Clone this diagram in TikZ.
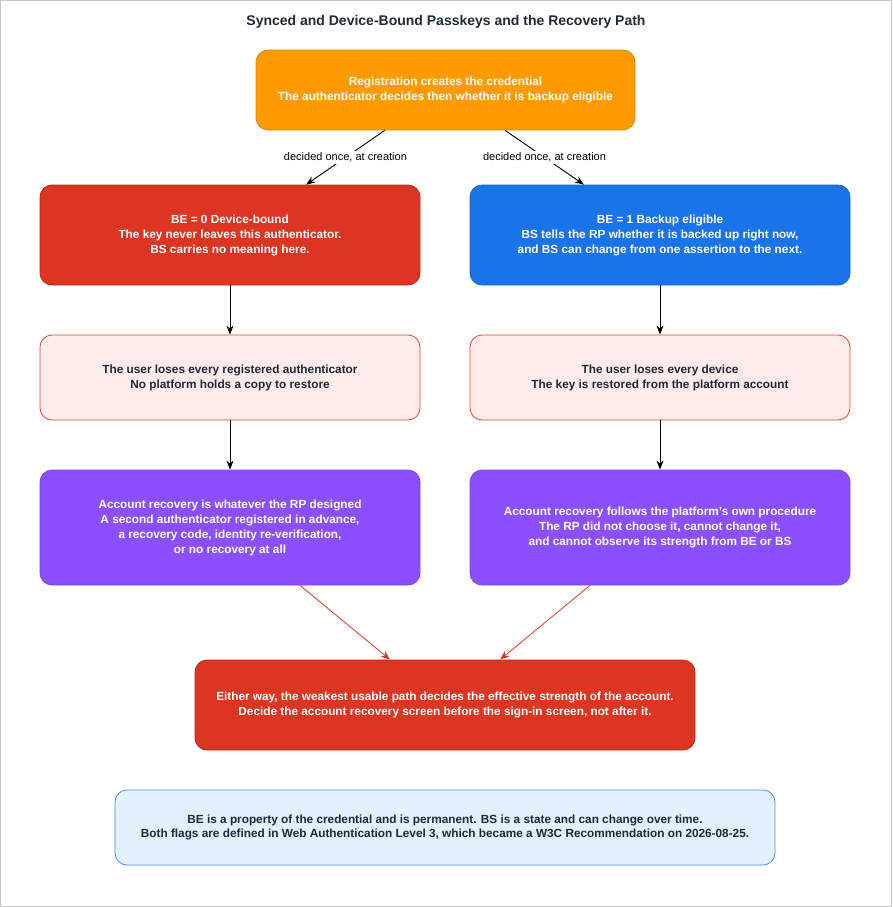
\documentclass[tikz,border=0pt]{standalone}
\usepackage{fontspec}
\setmainfont{Liberation Sans}
\usepackage{tikz}
\usetikzlibrary{arrows.meta,positioning,calc}
\usepackage{xcolor}
\definecolor{regorange}{HTML}{FF9A00}
\definecolor{regorangeline}{HTML}{D98A0C}
\definecolor{bered}{HTML}{DC3522}
\definecolor{beredline}{HTML}{B82B1B}
\definecolor{beblue}{HTML}{1A73E8}
\definecolor{beblueline}{HTML}{1462C6}
\definecolor{losspink}{HTML}{FFEBEA}
\definecolor{losspinkline}{HTML}{E0452F}
\definecolor{recpurple}{HTML}{8C4FFF}
\definecolor{recpurpleline}{HTML}{7A45E0}
\definecolor{noteblue}{HTML}{E3F0FD}
\definecolor{noteblueline}{HTML}{4A8FE7}
\definecolor{darktext}{HTML}{1F2937}
\definecolor{framegray}{HTML}{C8C8C8}

\begin{document}
\begin{tikzpicture}[x=1pt,y=-1pt,
    box/.style={draw,rounded corners=12pt,line width=0.8pt,align=center,
        font=\bfseries\fontsize{11.8}{15}\selectfont,inner sep=0pt},
    darkbox/.style={box,text=white},
    lightbox/.style={box,text=darktext},
    flow/.style={-{Stealth[length=9pt,width=7pt]},line width=0.9pt},
    redflow/.style={-{Stealth[length=9pt,width=7pt]},line width=0.8pt,draw=bered,color=bered},
    edgelabel/.style={fill=white,inner sep=1.5pt,font=\fontsize{11}{13}\selectfont}]
    \useasboundingbox (0,0) rectangle (892,907);
    \draw[framegray,line width=0.8pt] (0.5,0.5) rectangle (891.5,906.5);
    \node[font=\bfseries\fontsize{14}{16}\selectfont,text=darktext] (title) at (446,22) {Synced and Device-Bound Passkeys and the Recovery Path};
    % registration
    \node[darkbox,fill=regorange,draw=regorangeline,minimum width=379pt,minimum height=80pt] (reg) at (445.5,90)
        {Registration creates the credential\\The authenticator decides then whether it is backup eligible};
    % the two flags
    \node[darkbox,fill=bered,draw=beredline,minimum width=380pt,minimum height=100pt] (bezero) at (230,235)
        {BE = 0 Device-bound\\The key never leaves this authenticator.\\BS carries no meaning here.};
    \node[darkbox,fill=beblue,draw=beblueline,minimum width=380pt,minimum height=100pt] (beone) at (660,235)
        {BE = 1 Backup eligible\\BS tells the RP whether it is backed up right now,\\and BS can change from one assertion to the next.};
    % losing everything
    \node[lightbox,fill=losspink,draw=losspinkline,minimum width=380pt,minimum height=85pt] (lossleft) at (230,377.5)
        {The user loses every registered authenticator\\No platform holds a copy to restore};
    \node[lightbox,fill=losspink,draw=losspinkline,minimum width=380pt,minimum height=85pt] (lossright) at (660,377.5)
        {The user loses every device\\The key is restored from the platform account};
    % recovery
    \node[darkbox,fill=recpurple,draw=recpurpleline,minimum width=380pt,minimum height=115pt] (recleft) at (230,527.5)
        {Account recovery is whatever the RP designed\\A second authenticator registered in advance,\\a recovery code, identity re-verification,\\or no recovery at all};
    \node[darkbox,fill=recpurple,draw=recpurpleline,minimum width=380pt,minimum height=115pt] (recright) at (660,527.5)
        {Account recovery follows the platform's own procedure\\The RP did not choose it, cannot change it,\\and cannot observe its strength from BE or BS};
    \node[darkbox,fill=bered,draw=beredline,minimum width=500pt,minimum height=90pt] (weakest) at (445,705)
        {Either way, the weakest usable path decides the effective strength of the account.\\Decide the account recovery screen before the sign-in screen, not after it.};
    \node[lightbox,fill=noteblue,draw=noteblueline,minimum width=660pt,minimum height=75pt,font=\bfseries\fontsize{11.8}{14.5}\selectfont] (note) at (445,827.5)
        {BE is a property of the credential and is permanent. BS is a state and can change over time.\\Both flags are defined in Web Authentication Level 3, which became a W3C Recommendation on 2026-08-25.};
    % connectors
    \draw[flow] ($(reg.south west)!0.34!(reg.south east)$) -- node[edgelabel] {decided once, at creation} ($(bezero.north west)!0.7!(bezero.north east)$);
    \draw[flow] ($(reg.south west)!0.657!(reg.south east)$) -- node[edgelabel] {decided once, at creation} ($(beone.north west)!0.3!(beone.north east)$);
    \draw[flow] (bezero) -- (lossleft);
    \draw[flow] (beone) -- (lossright);
    \draw[flow] (lossleft) -- (recleft);
    \draw[flow] (lossright) -- (recright);
    \draw[redflow] ($(recleft.south west)!0.684!(recleft.south east)$) -- ($(weakest.north west)!0.39!(weakest.north east)$);
    \draw[redflow] ($(recright.south west)!0.316!(recright.south east)$) -- ($(weakest.north west)!0.61!(weakest.north east)$);
\end{tikzpicture}
\end{document}
